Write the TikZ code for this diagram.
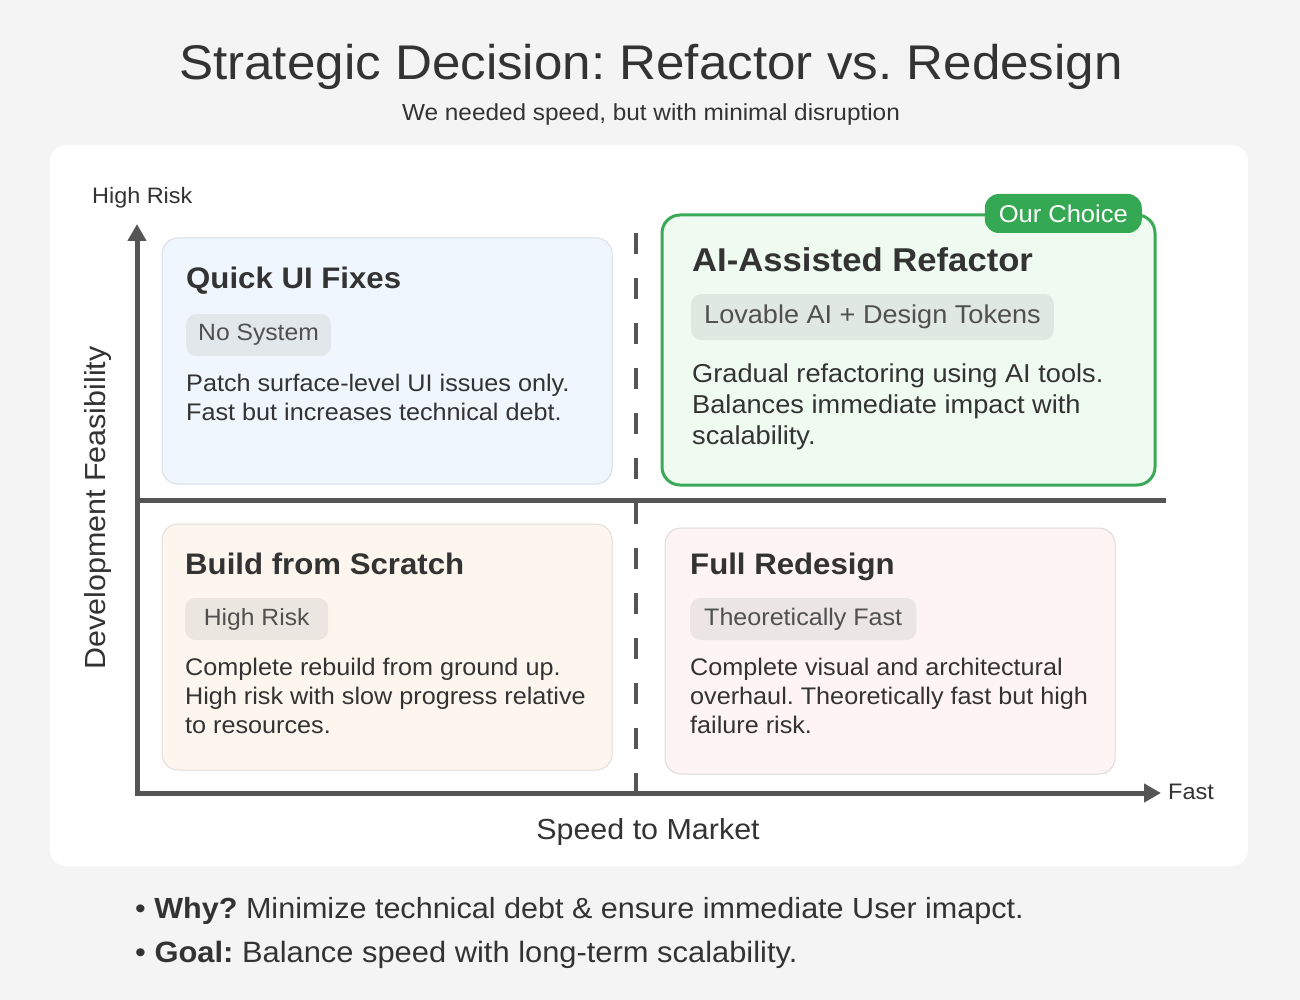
\documentclass[tikz,border=0pt]{standalone}
\usepackage{fontspec}
\setmainfont{Liberation Sans}[FakeStretch=1.05]
\usetikzlibrary{arrows.meta}
\frenchspacing
\definecolor{bg}{HTML}{F4F4F4}
\definecolor{ink}{HTML}{333333}
\definecolor{tagink}{HTML}{505050}
\definecolor{axis}{HTML}{555555}
\definecolor{qafill}{HTML}{F0F6FD}
\definecolor{qaline}{HTML}{D8DEE6}
\definecolor{qatag}{HTML}{E2E7EC}
\definecolor{gfill}{HTML}{EFFAF1}
\definecolor{gline}{HTML}{3BAA57}
\definecolor{gtag}{HTML}{E0E8E2}
\definecolor{gbadge}{HTML}{34A853}
\definecolor{ofill}{HTML}{FCF6EE}
\definecolor{oline}{HTML}{E2DDD6}
\definecolor{otag}{HTML}{EBE7E0}
\definecolor{rfill}{HTML}{FDF4F3}
\definecolor{rline}{HTML}{E0DADA}
\definecolor{rtag}{HTML}{EBE5E5}
\tikzset{
  txt/.style={inner sep=0pt, text=ink, anchor=base west},
  ctitle/.style={txt, font=\fontsize{29.7}{34}\selectfont\bfseries},
  body/.style={txt, font=\fontsize{24}{28}\selectfont},
  bodyg/.style={txt, font=\fontsize{25.9}{30}\selectfont},
  tagbox/.style={rounded corners=10pt, inner xsep=12pt, inner ysep=0pt, minimum height=42pt, anchor=west, text=tagink, font=\fontsize{23.5}{28}\selectfont},
  card/.style={rounded corners=16pt, line width=1pt},
  axisline/.style={draw=axis, line width=5pt},
  tip/.style={-{Triangle[length=17pt,width=18pt]}},
}
\begin{document}
\begin{tikzpicture}[x=1pt,y=-1pt]
\useasboundingbox (0,0) rectangle (1300,1000);
\fill[bg] (0,0) rectangle (1300,1000);
\fill[white, rounded corners=16pt] (50,145) rectangle (1248,866);

% title
\node[inner sep=0pt, anchor=base, text=ink, font=\fontsize{48.7}{56}\selectfont] (title) at (651,80) {Strategic Decision: Refactor vs. Redesign};
\node[inner sep=0pt, anchor=base, text=ink, font=\fontsize{23.2}{27}\selectfont] (subtitle) at (651,121) {We needed speed, but with minimal disruption};

% cards
\draw[card, fill=qafill, draw=qaline] (162,238) rectangle (612,484);
\draw[card, fill=ofill, draw=oline] (162,524) rectangle (612,770);
\draw[card, fill=rfill, draw=rline] (665,528) rectangle (1115,774);
\draw[rounded corners=18pt, fill=gfill, draw=gline, line width=3pt] (662,215) rectangle (1155,485);

% axes
\coordinate (origin) at (137,793);
\coordinate (ytop) at (137,224);
\coordinate (xend) at (1161,793);
\coordinate (midl) at (137,500);
\coordinate (midr) at (1166,500);
\coordinate (dtop) at (636,233);
\coordinate (dbot) at (636,792);
\draw[axisline] (midl) -- (midr);
\draw[draw=axis, line width=4pt, dash pattern=on 21pt off 24pt] (dtop) -- (dbot);
\draw[axisline, tip] (137,795.5) -- (ytop);
\draw[axisline, tip] (134.5,793) -- (xend);

\node[txt, font=\fontsize{22.3}{26}\selectfont] (highrisk) at (92,204) {High Risk};
\node[txt, font=\fontsize{22.4}{26}\selectfont] (fast) at (1168,799) {Fast};
\node[inner sep=0pt, anchor=base, text=ink, font=\fontsize{29}{32}\selectfont] (xlabel) at (648,839) {Speed to Market};
\node[inner sep=0pt, anchor=base, rotate=90, text=ink, font=\fontsize{29}{32}\selectfont] (ylabel) at (105,508) {Development Feasibility};

% Quick UI Fixes
\node[ctitle] (qatitle) at (186,288) {Quick UI Fixes};
\node[tagbox, fill=qatag] (qatag) at (186,335) {No System};
\node[body] (qab1) at (186,391) {Patch surface-level UI issues only.};
\node[body] (qab2) at (186,420) {Fast but increases technical debt.};

% AI-Assisted Refactor
\node[txt, font=\fontsize{33}{38}\selectfont\bfseries] (gtitle) at (692,271) {AI-Assisted Refactor};
\node[tagbox, fill=gtag, minimum height=46pt, inner xsep=13pt, font=\fontsize{25.8}{30}\selectfont] (gtagn) at (691,317) {Lovable AI + Design Tokens};
\node[bodyg] (gb1) at (692,382) {Gradual refactoring using AI tools.};
\node[bodyg] (gb2) at (692,413) {Balances immediate impact with};
\node[bodyg] (gb3) at (692,444) {scalability.};
\node[fill=gbadge, rounded corners=14pt, text=white, inner xsep=14pt, minimum height=39pt, anchor=east, font=\fontsize{24.3}{28}\selectfont] (badge) at (1142,213.5) {Our Choice};

% Build from Scratch
\node[ctitle] (otitle) at (185,574) {Build from Scratch};
\node[tagbox, fill=otag, minimum width=143pt] (otagn) at (185,619) {High Risk};
\node[body] (ob1) at (185,675) {Complete rebuild from ground up.};
\node[body] (ob2) at (185,704) {High risk with slow progress relative};
\node[body] (ob3) at (185,733) {to resources.};

% Full Redesign
\node[ctitle] (rtitle) at (690,574) {Full Redesign};
\node[tagbox, fill=rtag, inner xsep=14pt, font=\fontsize{23.9}{28}\selectfont] (rtagn) at (690,619) {Theoretically Fast};
\node[body] (rb1) at (690,675) {Complete visual and architectural};
\node[body] (rb2) at (690,704) {overhaul. Theoretically fast but high};
\node[body] (rb3) at (690,733) {failure risk.};

% bullets
\node[txt, font=\fontsize{29.1}{34}\selectfont] (why) at (135,918) {\textbullet\ \textbf{Why?} Minimize technical debt \& ensure immediate User imapct.};
\node[txt, font=\fontsize{29.4}{34}\selectfont] (goal) at (135,962) {\textbullet\ \textbf{Goal:} Balance speed with long-term scalability.};
\end{tikzpicture}
\end{document}
